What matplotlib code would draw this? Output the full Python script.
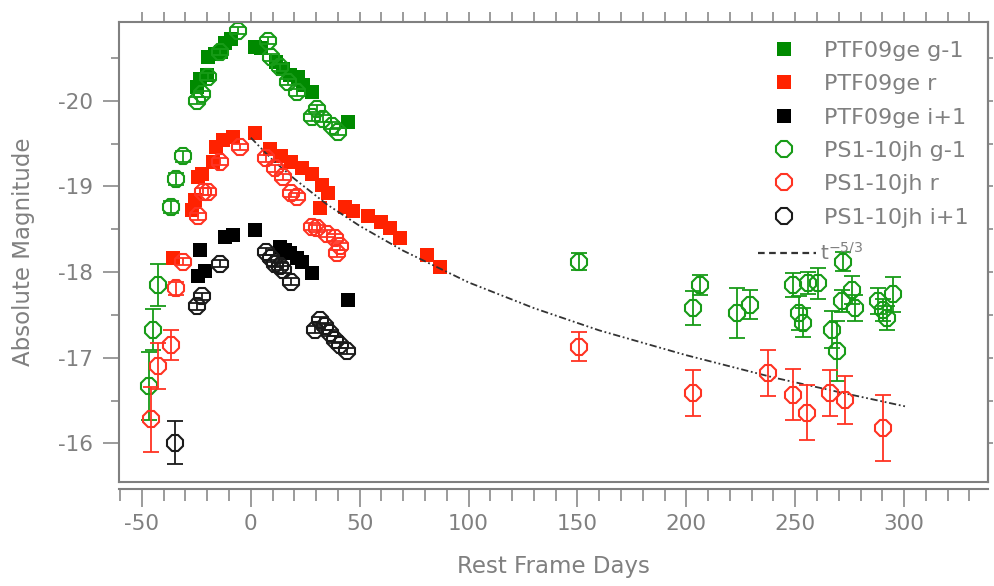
#!/usr/bin/env python3
"""Light curves of PTF09ge and PS1-10jh against rest-frame days."""

import matplotlib

matplotlib.use("Agg")
import matplotlib.pyplot as plt
from matplotlib.lines import Line2D
from matplotlib.ticker import MultipleLocator

plt.rcParams["axes.unicode_minus"] = False
plt.rcParams["font.family"] = ["DejaVu Sans"]

# PTF09ge, filled squares (no error bars)
ptf_g_day = [-24.9, -23.4, -20.3, -19.6, -16.5, -13.5, -11.9, -8.9, 1.8, 4.5,
             11.8, 14.8, 17.9, 21.7, 24.0, 27.9, 44.7]
ptf_g_mag = [-20.16, -20.26, -20.30, -20.51, -20.55, -20.57, -20.68, -20.72, -20.63, -20.62,
             -20.45, -20.37, -20.30, -20.28, -20.18, -20.10, -19.75]

ptf_r_day = [-35.7, -27.2, -25.7, -24.2, -22.6, -17.3, -15.8, -12.7, -8.1, 1.8,
             8.7, 14.1, 18.7, 23.3, 27.9, 31.7, 32.5, 35.5, 43.2, 47.0,
             53.9, 60.0, 63.8, 68.4, 80.8, 86.8]
ptf_r_mag = [-18.16, -18.73, -18.84, -19.11, -19.15, -19.29, -19.46, -19.54, -19.58, -19.62,
             -19.44, -19.35, -19.29, -19.21, -19.15, -18.75, -19.02, -18.92, -18.76, -18.71,
             -18.65, -18.59, -18.51, -18.40, -18.20, -18.06]

ptf_i_day = [-24.2, -23.4, -21.1, -11.9, -8.1, 1.8, 13.3, 15.6, 17.9, 21.0, 23.3, 27.9, 44.7]
ptf_i_mag = [-17.95, -18.26, -18.01, -18.41, -18.43, -18.49, -18.29, -18.26, -18.22, -18.16,
             -18.12, -17.99, -17.68]

# PS1-10jh, open octagons with error bars
ps1_g_day = [-46.7, -44.9, -42.6, -36.4, -34.1, -31.1, -24.9, -22.6, -19.6, -14.2,
             -5.8, 8.0, 9.5, 13.3, 17.2, 21.0, 27.9, 30.2, 33.2, 37.1,
             40.1, 150.8, 202.9, 206.2, 223.1, 229.2, 249.1, 251.9, 253.4, 256.0,
             260.6, 266.7, 269.0, 271.3, 272.1, 275.9, 277.4, 288.2, 290.5, 292.0,
             295.0]
ps1_g_mag = [-16.67, -17.33, -17.85, -18.76, -19.09, -19.35, -20.00, -20.08, -20.28, -20.57,
             -20.82, -20.70, -20.51, -20.39, -20.22, -20.10, -19.81, -19.91, -19.79, -19.71,
             -19.64, -18.12, -17.58, -17.85, -17.52, -17.62, -17.85, -17.52, -17.41, -17.87,
             -17.87, -17.33, -17.08, -17.66, -18.12, -17.79, -17.58, -17.66, -17.56, -17.46,
             -17.74]
ps1_g_err = [0.40, 0.24, 0.25, 0.07, 0.07, 0.06, 0.04, 0.04, 0.04, 0.04,
             0.04, 0.04, 0.04, 0.04, 0.04, 0.04, 0.04, 0.04, 0.04, 0.04,
             0.04, 0.10, 0.20, 0.12, 0.29, 0.17, 0.14, 0.20, 0.17, 0.13,
             0.18, 0.22, 0.35, 0.13, 0.11, 0.16, 0.15, 0.15, 0.13, 0.14,
             0.20]

ps1_r_day = [-45.6, -42.6, -36.4, -34.1, -31.1, -24.2, -21.9, -19.6, -14.2, -5.1,
             7.2, 11.0, 14.8, 18.7, 21.0, 27.9, 30.2, 34.8, 38.6, 39.4,
             40.9, 150.8, 202.9, 237.6, 248.8, 255.2, 265.9, 272.8, 290.2]
ps1_r_mag = [-16.28, -16.90, -17.15, -17.81, -18.12, -18.65, -18.94, -18.94, -19.29, -19.46,
             -19.33, -19.21, -19.11, -18.92, -18.88, -18.53, -18.51, -18.45, -18.40, -18.22,
             -18.30, -17.13, -16.59, -16.82, -16.57, -16.36, -16.59, -16.51, -16.18]
ps1_r_err = [0.38, 0.27, 0.17, 0.08, 0.04, 0.04, 0.04, 0.04, 0.04, 0.04,
             0.04, 0.04, 0.04, 0.04, 0.04, 0.04, 0.04, 0.04, 0.04, 0.04,
             0.04, 0.17, 0.27, 0.27, 0.30, 0.32, 0.27, 0.28, 0.38]

ps1_i_day = [-34.9, -24.9, -22.6, -14.2, 7.2, 9.5, 11.0, 13.3, 14.8, 18.7,
             29.4, 31.7, 34.0, 36.3, 38.6, 40.9, 44.0]
ps1_i_mag = [-16.01, -17.60, -17.72, -18.10, -18.24, -18.16, -18.10, -18.07, -18.03, -17.89,
             -17.33, -17.44, -17.37, -17.29, -17.21, -17.15, -17.08]
ps1_i_err = [0.25, 0.04, 0.04, 0.04, 0.04, 0.04, 0.04, 0.04, 0.04, 0.04,
             0.04, 0.04, 0.04, 0.04, 0.04, 0.04, 0.04]

# t^-5/3 decline
fit_day = [0, 10, 20, 35, 50, 70, 100, 130, 160, 200, 240, 270, 301]
fit_mag = [-19.57, -19.31, -19.09, -18.79, -18.54, -18.25, -17.88, -17.58, -17.32,
           -17.03, -16.77, -16.60, -16.43]

GRAY = "#808080"
GREEN = "#008a00"
GREEN_OPEN = "#179b17"
RED = "#ff2200"
RED_OPEN = "#ff3322"
BLACK = "#000000"
BLACK_OPEN = "#1a1a1a"

fig = plt.figure(figsize=(9.94, 5.86), dpi=100)
ax = fig.add_axes([119 / 994, 1 - 482 / 586, 869 / 994, 460 / 586])

sq = dict(marker="s", ms=9.8, ls="none", mew=0)
ax.plot(ptf_g_day, ptf_g_mag, color=GREEN, label="PTF09ge g-1", **sq)
ax.plot(ptf_r_day, ptf_r_mag, color=RED, label="PTF09ge r", **sq)
ax.plot(ptf_i_day, ptf_i_mag, color=BLACK, label="PTF09ge i+1", **sq)

ax.plot(fit_day, fit_mag, color="#333333", lw=1.3, ls=(0, (4, 1.5, 1, 1.5, 1, 1.5)))

for day, mag, err, color, label in [
    (ps1_g_day, ps1_g_mag, ps1_g_err, GREEN_OPEN, "PS1-10jh g-1"),
    (ps1_r_day, ps1_r_mag, ps1_r_err, RED_OPEN, "PS1-10jh r"),
    (ps1_i_day, ps1_i_mag, ps1_i_err, BLACK_OPEN, "PS1-10jh i+1"),
]:
    ax.errorbar(day, mag, yerr=err, fmt="none", ecolor=color, elinewidth=1.3,
                capsize=5.5, capthick=1.3)
    ax.plot(day, mag, marker="8", ms=12, ls="none", mfc="none", mec=color,
            mew=1.5, label=label)

ax.set_xlim(-60.5, 338.5)
ax.set_ylim(-15.55, -20.92)

for side in ax.spines.values():
    side.set_color(GRAY)
    side.set_linewidth(1.5)

# top: plain ticks every 10 days
ax.xaxis.set_ticks_position("top")
ax.set_xticks(range(-50, 340, 10))
ax.tick_params(axis="x", which="both", direction="out", length=7, width=1.1,
               color=GRAY, labeltop=False, labelbottom=False)

# left: labelled magnitudes
ax.yaxis.set_ticks_position("left")
ax.set_yticks([-20, -19, -18, -17, -16])
ax.yaxis.set_minor_locator(MultipleLocator(0.5))
ax.tick_params(axis="y", which="major", direction="out", length=11.5, width=1.1,
               color=GRAY, labelcolor=GRAY, labelsize=15.5, pad=7)
ax.tick_params(axis="y", which="minor", direction="out", length=5.8, width=1.1, color=GRAY)

# right: short ticks every half magnitude
secy = ax.secondary_yaxis("right")
secy.set_yticks([-20.5, -20, -19.5, -19, -18.5, -18, -17.5, -17, -16.5, -16])
secy.tick_params(axis="y", direction="out", length=3.6, width=1.1, color=GRAY,
                 labelright=False)
secy.spines["right"].set_color(GRAY)
secy.spines["right"].set_linewidth(1.5)

# bottom: detached axis with labels
secx = ax.secondary_xaxis(-0.015)
secx.set_xticks([-50, 0, 50, 100, 150, 200, 250, 300])
secx.xaxis.set_minor_locator(MultipleLocator(10))
secx.tick_params(axis="x", which="major", direction="out", length=13, width=1.1,
                 color=GRAY, labelcolor=GRAY, labelsize=15.5, pad=5)
secx.tick_params(axis="x", which="minor", direction="out", length=8.6, width=1.1, color=GRAY)
secx.spines["bottom"].set_color(GRAY)
secx.spines["bottom"].set_linewidth(1.5)
secx.set_xlabel("Rest Frame Days", fontsize=16.5, color=GRAY, labelpad=15)

ax.set_ylabel("Absolute Magnitude", fontsize=16.5, color=GRAY)
ax.yaxis.set_label_coords(-0.097, 0.5)

leg = ax.legend(loc="upper right", frameon=False, fontsize=16, numpoints=1,
                labelspacing=0.6, handletextpad=0.8, borderaxespad=0.45,
                labelcolor=GRAY)
ax.add_artist(leg)

fit_key = Line2D([], [], color="#333333", lw=1.6, ls=(0, (3, 2)))
ax.legend(handles=[fit_key], labels=[r"$\mathregular{t^{-5/3}}$"], loc="center left",
          bbox_to_anchor=(0.735, 0.498), frameon=False, borderpad=0, borderaxespad=0,
          handlelength=2.9, handletextpad=0.2, fontsize=14.5, labelcolor=GRAY)

fig.savefig("out.png", dpi=100)
